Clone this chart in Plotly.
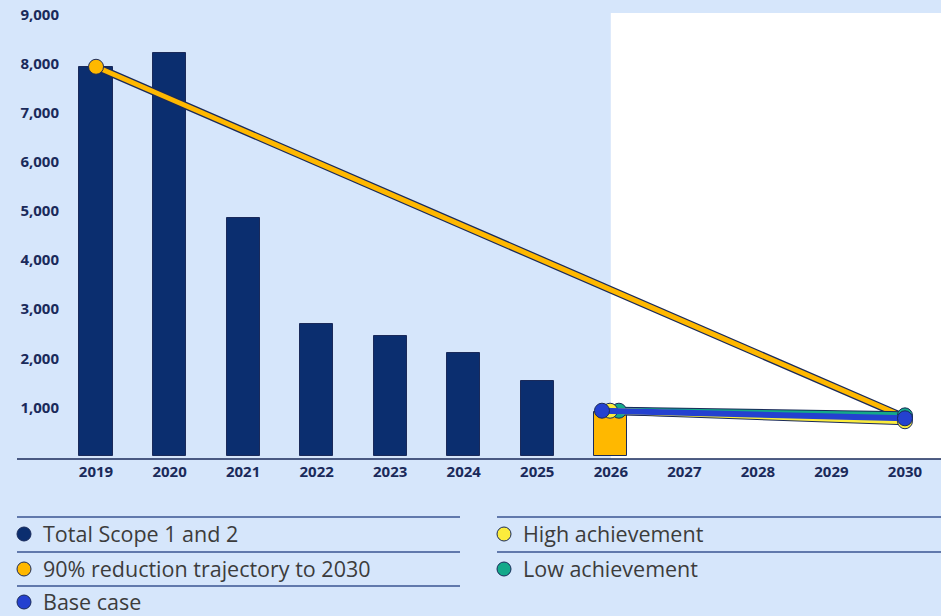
import plotly.graph_objects as go

# ---- data -------------------------------------------------------------
years = [2019, 2020, 2021, 2022, 2023, 2024, 2025, 2026]
scope_1_2 = [7945, 8225, 4860, 2700, 2450, 2100, 1530, 900]

trajectory_years = [2019, 2030]
trajectory_values = [7945, 795]

scenario_years = [2026, 2030]
low_achievement = [930, 835]
high_achievement = [930, 715]
base_case = [930, 775]

y_ticks = [1000, 2000, 3000, 4000, 5000, 6000, 7000, 8000, 9000]
x_ticks = list(range(2019, 2031))

# ---- styling ----------------------------------------------------------
BG = "#d6e6fb"
NAVY = "#0b2e6f"
OUTLINE = "#1a2a5a"
ORANGE = "#ffb800"
YELLOW = "#fbec3c"
GREEN = "#14a98a"
BLUE = "#2441d0"
RULE = "#3a5592"
TEXT = "#3c3c3c"

W, H = 941, 616
L, R, T, B = 60, 0, 13, 157
PW, PH = W - L - R, H - T - B


def px_x(p):
    return (p - L) / PW


def px_y(p):
    return (H - B - p) / PH


fig = go.Figure()

# highlighted forecast zone
fig.add_vrect(x0=2026, x1=2031, fillcolor="white", line_width=0, layer="below")

bar_colors = [NAVY] * (len(years) - 1) + [ORANGE]
fig.add_trace(go.Bar(
    x=years, y=scope_1_2, width=0.45,
    marker=dict(color=bar_colors, line=dict(color=OUTLINE, width=1)),
    showlegend=False, hoverinfo="x+y",
))

# trajectory line with a dark border
fig.add_trace(go.Scatter(
    x=trajectory_years, y=trajectory_values, mode="lines",
    line=dict(color=OUTLINE, width=7.5), showlegend=False, hoverinfo="skip",
))
fig.add_trace(go.Scatter(
    x=trajectory_years, y=trajectory_values, mode="lines+markers",
    line=dict(color=ORANGE, width=5),
    marker=dict(size=15, color=ORANGE, line=dict(color=OUTLINE, width=1)),
    showlegend=False,
))

# scenario lines; the first point of each is nudged so the markers fan out
scenarios = [
    (low_achievement, GREEN, 0.11),
    (high_achievement, YELLOW, -0.01),
    (base_case, BLUE, -0.12),
]
for values, color, nudge in scenarios:
    xs = [scenario_years[0] + nudge] + scenario_years[1:]
    fig.add_trace(go.Scatter(
        x=xs, y=values, mode="lines",
        line=dict(color=OUTLINE, width=8), showlegend=False, hoverinfo="skip",
    ))
for values, color, nudge in scenarios:
    xs = [scenario_years[0] + nudge] + scenario_years[1:]
    fig.add_trace(go.Scatter(
        x=xs, y=values, mode="lines+markers",
        line=dict(color=color, width=6),
        marker=dict(size=15, color=color, line=dict(color=OUTLINE, width=1)),
        showlegend=False,
    ))

shapes = []
annotations = []

# x axis baseline running under the y labels
shapes.append(dict(type="line", xref="paper", yref="paper",
                   x0=px_x(17), x1=1, y0=0, y1=0,
                   line=dict(color=OUTLINE, width=1.5)))

# legend: two columns of entries separated by rules
legend_items = [
    ("Total Scope 1 and 2", NAVY, 0, 0),
    ("90% reduction trajectory to 2030", ORANGE, 0, 1),
    ("Base case", BLUE, 0, 2),
    ("High achievement", YELLOW, 1, 0),
    ("Low achievement", GREEN, 1, 1),
]
col_left = [17, 497]
col_right = [460, 941]
row_rule = [517, 552, 586]
row_mid = [533, 568, 601]
for label, color, col, row in legend_items:
    shapes.append(dict(type="line", xref="paper", yref="paper",
                       x0=px_x(col_left[col]), x1=px_x(col_right[col]),
                       y0=px_y(row_rule[row]), y1=px_y(row_rule[row]),
                       line=dict(color=RULE, width=1.5)))
    cx = col_left[col] + 7
    shapes.append(dict(type="circle", xref="paper", yref="paper",
                       xsizemode="pixel", ysizemode="pixel",
                       xanchor=px_x(cx), yanchor=px_y(row_mid[row] + 1),
                       x0=-7, x1=7, y0=-7, y1=7,
                       fillcolor=color, line=dict(color=OUTLINE, width=1)))
    annotations.append(dict(xref="paper", yref="paper",
                            x=px_x(col_left[col] + 24), y=px_y(row_mid[row]),
                            xanchor="left", yanchor="middle", showarrow=False,
                            text=label,
                            font=dict(family="Open Sans", size=21.5, color=TEXT)))

fig.update_layout(
    width=W, height=H,
    margin=dict(l=L, r=R, t=T, b=B, pad=0),
    paper_bgcolor=BG, plot_bgcolor=BG,
    shapes=fig.layout.shapes + tuple(shapes),
    annotations=annotations,
    bargap=0,
    xaxis=dict(
        range=[2018.51, 2030.49], tickmode="array", tickvals=x_ticks,
        ticktext=[str(v) for v in x_ticks], showgrid=False, zeroline=False,
        showline=False, ticks="", ticklabelstandoff=2,
        tickfont=dict(family="Open Sans", size=15, color=OUTLINE, weight="bold"),
        fixedrange=True,
    ),
    yaxis=dict(
        range=[-55, 9042], tickmode="array", tickvals=y_ticks,
        ticktext=[f"{v:,}" for v in y_ticks], showgrid=False, zeroline=False,
        showline=False, ticks="",
        tickfont=dict(family="Open Sans", size=15, color=OUTLINE, weight="bold"),
        fixedrange=True,
    ),
    hovermode="closest",
)

fig.write_html("out.html")
